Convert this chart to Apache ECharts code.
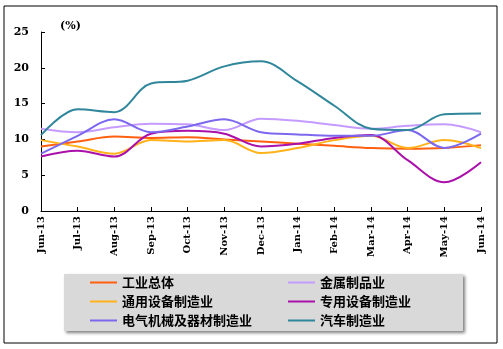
<!DOCTYPE html>
<html><head><meta charset="utf-8">
<script src="https://cdn.jsdelivr.net/npm/echarts@6/dist/echarts.min.js"></script>
<style>html,body{margin:0;padding:0;background:#fff}#c{width:503px;height:349px}</style>
</head><body><div id="c"></div>
<script>
const categories = ['Jun-13','Jul-13','Aug-13','Sep-13','Oct-13','Nov-13','Dec-13','Jan-14','Feb-14','Mar-14','Apr-14','May-14','Jun-14'];
const yTicks = [0,5,10,15,20,25];
const names = ['工业总体','金属制品业','通用设备制造业','专用设备制造业','电气机械及器材制造业','汽车制造业'];
const gongye   = [9.0, 9.7, 10.4, 10.2, 10.3, 10.0, 9.7, 9.4, 9.1, 8.8, 8.7, 8.8, 9.2];
const jinshu   = [11.5, 11.0, 11.7, 12.2, 12.1, 11.3, 12.9, 12.6, 12.0, 11.5, 11.9, 12.1, 11.0];
const tongyong = [9.9, 9.0, 8.0, 9.9, 9.7, 9.9, 8.1, 8.8, 9.9, 10.5, 8.8, 9.9, 8.8];
const zhuanyong= [7.6, 8.4, 7.6, 10.8, 11.2, 10.8, 9.0, 9.4, 10.2, 10.6, 7.1, 4.0, 6.8];
const dianqi   = [8.0, 10.5, 12.8, 11.0, 11.8, 12.8, 11.0, 10.7, 10.5, 10.5, 11.3, 8.8, 10.8];
const qiche    = [10.6, 14.2, 13.8, 17.8, 18.2, 20.2, 20.9, 18.1, 14.7, 11.5, 11.3, 13.5, 13.6];
const values = [gongye, jinshu, tongyong, zhuanyong, dianqi, qiche];
const colors = ['#FF6010','#C59BFF','#FFB21A','#AA10AA','#7B68EE','#30879B'];

const chart = echarts.init(document.getElementById('c'), null, {renderer:'canvas'});
const axisFont = {fontFamily:'DejaVu Serif', fontWeight:'bold', fontSize:10, color:'#000'};
const legendText = {fontFamily:'Noto Sans CJK SC', fontWeight:'bold', fontSize:13, color:'#000'};
chart.setOption({
  animation:false,
  graphic:[
    {type:'rect', shape:{x:4,y:6,width:493,height:337}, style:{fill:'none', stroke:'#000', lineWidth:1}, z:-10},
    {type:'rect', shape:{x:64,y:274,width:399,height:57}, style:{fill:'#D9D9D9', shadowBlur:3, shadowOffsetX:2, shadowOffsetY:2, shadowColor:'rgba(0,0,0,0.5)'}, z:-5},
    {type:'text', left:60, top:21, style:{text:'(%)', font:'bold 11px "DejaVu Serif"', fill:'#000'}}
  ],
  grid:{left:41, right:22, top:32, bottom:138, containLabel:false},
  xAxis:{type:'category', data:categories, boundaryGap:false,
    axisLine:{lineStyle:{color:'#000', width:1}},
    axisTick:{inside:true, length:4, lineStyle:{color:'#000'}},
    axisLabel:Object.assign({rotate:90, margin:5, interval:0}, axisFont),
    splitLine:{show:false}},
  yAxis:{type:'value', min:0, max:25, interval:5,
    axisLine:{show:true, lineStyle:{color:'#000', width:1}},
    axisTick:{show:true, inside:true, length:4, lineStyle:{color:'#000'}},
    axisLabel:Object.assign({margin:12, formatter:v=>yTicks.includes(v)?String(v):''}, axisFont, {fontSize:11}),
    splitLine:{show:false}},
  legend:[
    {orient:'vertical', left:90, top:276, itemWidth:27, itemHeight:2, itemGap:6, icon:'rect',
     data:[names[0],names[2],names[4]], textStyle:legendText, padding:0},
    {orient:'vertical', left:288, top:276, itemWidth:27, itemHeight:2, itemGap:6, icon:'rect',
     data:[names[1],names[3],names[5]], textStyle:legendText, padding:0}
  ],
  series: names.map((n,i)=>({name:n, type:'line', data:values[i], smooth:0.35, symbol:'none',
    lineStyle:{color:colors[i], width:2}, itemStyle:{color:colors[i]}}))
});
</script></body></html>
